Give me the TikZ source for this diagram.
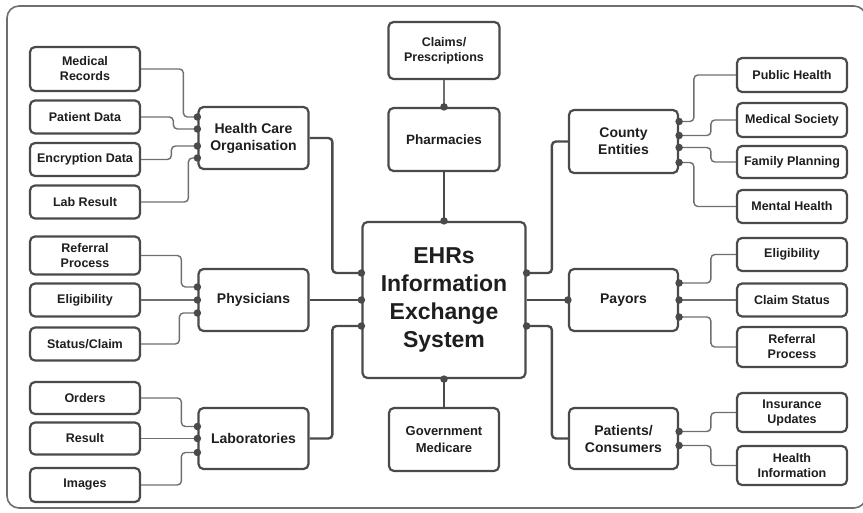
\documentclass[tikz,border=0pt]{standalone}
\usepackage{fontspec}
\setmainfont{Liberation Sans}
\usetikzlibrary{calc}
\definecolor{boxline}{HTML}{4A4A4A}
\definecolor{connline}{HTML}{6E6E6E}
\definecolor{txt}{HTML}{1E1E1E}
\tikzset{
 sbox/.style={draw=boxline, line width=2.2pt, rounded corners=5pt, fill=white, minimum width=110pt, inner sep=0pt, align=center, text=txt, font=\bfseries\fontsize{12.5}{15}\selectfont},
 mbox/.style={sbox, font=\bfseries\fontsize{14}{17}\selectfont},
 cbox/.style={sbox, font=\bfseries\fontsize{23}{28}\selectfont},
 conn/.style={draw=connline, line width=1.4pt, rounded corners=4pt},
 mconn/.style={draw=boxline, line width=2.4pt, rounded corners=4pt},
 port/.style={circle, fill=boxline, inner sep=0pt, minimum size=7.5pt},
 frame/.style={draw=connline, line width=1.6pt, rounded corners=12pt},
}
\begin{document}
\begin{tikzpicture}[x=1pt,y=-1pt]
\useasboundingbox (0,0) rectangle (863,512);
\draw[frame] (7,6) rectangle (866,508);
% left column
\node[sbox, minimum height=44pt] (mr) at (85,69) {Medical\\Records};
\node[sbox, minimum height=33pt] (pd) at (85,117) {Patient Data};
\node[sbox, minimum height=33pt] (ed) at (85,159.5) {Encryption Data};
\node[sbox, minimum height=33pt] (lr) at (85,202) {Lab Result};
\node[sbox, minimum height=38pt] (rp) at (85,255.5) {Referral\\Process};
\node[sbox, minimum height=33pt] (el) at (85,300) {Eligibility};
\node[sbox, minimum height=33pt] (sc) at (85,344) {Status/Claim};
\node[sbox, minimum height=32pt] (od) at (85,398) {Orders};
\node[sbox, minimum height=32pt] (re) at (85,438.5) {Result};
\node[sbox, minimum height=34pt] (im) at (85,485) {Images};
% middle left
\node[mbox, minimum height=62pt] (hco) at (253.5,138) {Health Care\\Organisation};
\node[mbox, minimum height=62pt] (phy) at (253.5,300) {Physicians};
\node[mbox, minimum height=61pt] (lab) at (253.5,438.5) {Laboratories};
% centre
\node[cbox, minimum width=163pt, minimum height=156pt] (ehr) at (444,300) {EHRs\\Information\\Exchange\\System};
\node[sbox, minimum width=111pt, minimum height=57pt] (cl) at (444,50.5) {Claims/\\Prescriptions};
\node[mbox, font=\bfseries\fontsize{13.5}{16}\selectfont, minimum width=111pt, minimum height=63pt] (ph) at (444,139.5) {Pharmacies};
\node[sbox, font=\bfseries\fontsize{13}{17}\selectfont, minimum height=63pt] (gv) at (444,439.5) {Government\\Medicare};
% middle right
\node[mbox, minimum width=109pt, minimum height=63pt] (cty) at (623.5,141.5) {County\\Entities};
\node[mbox, minimum width=109pt, minimum height=62pt] (pay) at (623.5,300) {Payors};
\node[mbox, minimum width=109pt, minimum height=61pt] (pat) at (623.5,438.5) {Patients/\\Consumers};
% right column
\node[sbox, minimum height=34pt] (pu) at (792,75) {Public Health};
\node[sbox, minimum height=34pt] (ms) at (792,120) {Medical Society};
\node[sbox, minimum height=32pt] (fp) at (792,162) {Family Planning};
\node[sbox, minimum height=33pt] (mh) at (792,206.5) {Mental Health};
\node[sbox, minimum height=33pt] (el2) at (792,254.5) {Eligibility};
\node[sbox, minimum height=33pt] (cs) at (792,300) {Claim Status};
\node[sbox, minimum height=40pt] (rp2) at (792,347) {Referral\\Process};
\node[sbox, minimum height=39pt] (iu) at (792,412.5) {Insurance\\Updates};
\node[sbox, minimum height=39pt] (hi) at (792,465.5) {Health\\Information};
% ports
\coordinate (h1) at ($(hco.west)+(0,-21)$);
\coordinate (h2) at ($(hco.west)+(0,-9)$);
\coordinate (h3) at ($(hco.west)+(0,8)$);
\coordinate (h4) at ($(hco.west)+(0,20)$);
\coordinate (p1) at ($(phy.west)+(0,-13)$);
\coordinate (p2) at (phy.west);
\coordinate (p3) at ($(phy.west)+(0,13)$);
\coordinate (l1) at ($(lab.west)+(0,-12)$);
\coordinate (l2) at (lab.west);
\coordinate (l3) at ($(lab.west)+(0,14)$);
\coordinate (c1) at ($(cty.east)+(0,-20)$);
\coordinate (c2) at ($(cty.east)+(0,-6)$);
\coordinate (c3) at ($(cty.east)+(0,6)$);
\coordinate (c4) at ($(cty.east)+(0,21)$);
\coordinate (y1) at ($(pay.east)+(0,-17)$);
\coordinate (y2) at (pay.east);
\coordinate (y3) at ($(pay.east)+(0,17)$);
\coordinate (t1) at ($(pat.east)+(0,-7)$);
\coordinate (t2) at ($(pat.east)+(0,7)$);
\coordinate (e1) at ($(ehr.west)+(0,-27)$);
\coordinate (e2) at (ehr.west);
\coordinate (e3) at ($(ehr.west)+(0,26)$);
\coordinate (e4) at ($(ehr.east)+(0,-27)$);
\coordinate (e5) at (ehr.east);
\coordinate (e6) at ($(ehr.east)+(0,26)$);
% small connectors left
\draw[conn] (mr.east) -| ($(h1)+(-14,0)$) -- (h1);
\draw[conn] (pd.east) -| ($(h2)+(-24,0)$) -- (h2);
\draw[conn] (ed.east) -| ($(h3)+(-26,0)$) -- (h3);
\draw[conn] (lr.east) -| ($(h4)+(-9,0)$) -- (h4);
\draw[conn] (rp.east) -| ($(p1)+(-16,0)$) -- (p1);
\draw[conn] (el.east) -- (p2);
\draw[conn] (sc.east) -| ($(p3)+(-18,0)$) -- (p3);
\draw[conn] (od.east) -| ($(l1)+(-16,0)$) -- (l1);
\draw[conn] (re.east) -- (l2);
\draw[conn] (im.east) -| ($(l3)+(-16,0)$) -- (l3);
% small connectors right
\draw[conn] (c1) -| ($(pu.west)+(-42,0)$) -- (pu.west);
\draw[conn] (c2) -| ($(ms.west)+(-25,0)$) -- (ms.west);
\draw[conn] (c3) -| ($(fp.west)+(-25,0)$) -- (fp.west);
\draw[conn] (c4) -| ($(mh.west)+(-42,0)$) -- (mh.west);
\draw[conn] (y1) -| ($(el2.west)+(-25,0)$) -- (el2.west);
\draw[conn] (y2) -- (cs.west);
\draw[conn] (y3) -| ($(rp2.west)+(-25,0)$) -- (rp2.west);
\draw[conn] (t1) -| ($(iu.west)+(-25,0)$) -- (iu.west);
\draw[conn] (t2) -| ($(hi.west)+(-25,0)$) -- (hi.west);
% main connectors
\draw[mconn] (hco.east) -| ($(e1)+(-29,0)$) -- (e1);
\draw[mconn] (phy.east) -- (e2);
\draw[mconn] (lab.east) -| ($(e3)+(-29,0)$) -- (e3);
\draw[mconn] (e4) -| ($(cty.west)+(-16,0)$) -- (cty.west);
\draw[mconn] (e5) -- (pay.west);
\draw[mconn] (e6) -| ($(pat.west)+(-16,0)$) -- (pat.west);
\draw[conn] (cl.south) -- (ph.north);
\draw[mconn] (ph.south) -- (ehr.north);
\draw[mconn] (ehr.south) -- (gv.north);
% dots
\foreach \p in {h1,h2,h3,h4,p1,p2,p3,l1,l2,l3,c1,c2,c3,c4,y1,y2,y3,t1,t2,e1,e2,e3,e4,e6}
  \node[port] at (\p) {};
\node[port] at (pay.west) {};
\node[port] at (ph.north) {};
\node[port] at (ehr.north) {};
\node[port] at (ehr.south) {};
\end{tikzpicture}
\end{document}
